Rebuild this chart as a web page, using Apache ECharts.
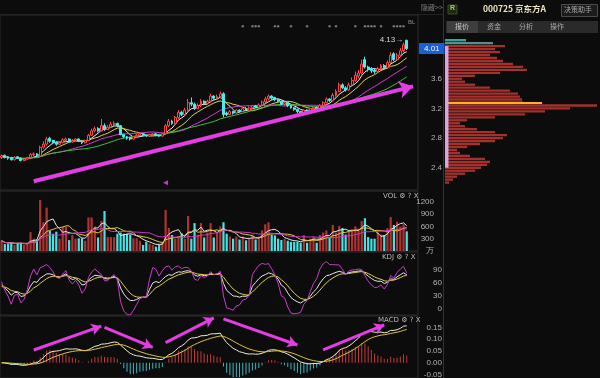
<!DOCTYPE html>
<html>
<head>
<meta charset="utf-8">
<script src="https://cdn.jsdelivr.net/npm/echarts@6/dist/echarts.min.js"></script>
<style>
html, body { margin: 0; padding: 0; background: #0c0c0c; }
#chart { width: 600px; height: 378px; }
</style>
</head>
<body>
<div id="chart"></div>
<script>
// 000725 京东方A 日K，数值为读图估算
var opens = [2.54, 2.57, 2.55, 2.54, 2.51, 2.55, 2.53, 2.50, 2.52, 2.54,
    2.58, 2.59, 2.56, 2.68, 2.72, 2.80, 2.77, 2.75, 2.72, 2.74,
    2.77, 2.79, 2.75, 2.77, 2.79, 2.76, 2.74, 2.77, 2.84, 2.90,
    2.93, 2.90, 2.97, 2.92, 2.95, 2.98, 3.00, 2.97, 2.85, 2.82,
    2.81, 2.79, 2.82, 2.84, 2.86, 2.84, 2.83, 2.85, 2.86, 2.84,
    2.83, 2.86, 2.97, 3.03, 3.00, 3.08, 3.15, 3.12, 3.18, 3.28,
    3.26, 3.20, 3.24, 3.30, 3.27, 3.30, 3.37, 3.34, 3.36, 3.40,
    3.14, 3.12, 3.16, 3.14, 3.18, 3.16, 3.20, 3.18, 3.21, 3.24,
    3.22, 3.25, 3.29, 3.33, 3.37, 3.35, 3.32, 3.30, 3.26, 3.28,
    3.24, 3.21, 3.19, 3.16, 3.14, 3.18, 3.17, 3.20, 3.22, 3.20,
    3.24, 3.28, 3.33, 3.31, 3.38, 3.43, 3.52, 3.48, 3.45, 3.52,
    3.58, 3.64, 3.68, 3.86, 3.76, 3.74, 3.72, 3.70, 3.74, 3.78,
    3.75, 3.82, 3.94, 3.86, 3.92, 3.98, 4.12];
var closes = [2.56, 2.54, 2.53, 2.51, 2.54, 2.53, 2.50, 2.52, 2.54, 2.58,
    2.59, 2.56, 2.68, 2.72, 2.79, 2.76, 2.74, 2.72, 2.74, 2.78,
    2.79, 2.75, 2.77, 2.79, 2.76, 2.74, 2.77, 2.84, 2.90, 2.93,
    2.90, 2.97, 2.92, 2.95, 2.99, 3.00, 2.97, 2.85, 2.82, 2.80,
    2.79, 2.82, 2.84, 2.86, 2.84, 2.83, 2.85, 2.86, 2.84, 2.83,
    2.86, 2.97, 3.03, 3.00, 3.08, 3.15, 3.12, 3.18, 3.28, 3.26,
    3.20, 3.24, 3.30, 3.27, 3.30, 3.37, 3.34, 3.36, 3.40, 3.12,
    3.12, 3.16, 3.14, 3.18, 3.16, 3.20, 3.18, 3.21, 3.24, 3.22,
    3.25, 3.29, 3.33, 3.37, 3.34, 3.32, 3.30, 3.26, 3.28, 3.24,
    3.21, 3.19, 3.16, 3.14, 3.18, 3.17, 3.20, 3.22, 3.20, 3.24,
    3.28, 3.33, 3.31, 3.38, 3.43, 3.52, 3.48, 3.45, 3.52, 3.58,
    3.65, 3.68, 3.80, 3.76, 3.73, 3.71, 3.70, 3.74, 3.78, 3.75,
    3.82, 3.92, 3.86, 3.92, 3.98, 4.06, 4.01];
var lows = [2.52, 2.53, 2.51, 2.50, 2.50, 2.52, 2.49, 2.49, 2.51, 2.53,
    2.56, 2.55, 2.55, 2.66, 2.70, 2.74, 2.72, 2.70, 2.71, 2.73,
    2.75, 2.74, 2.74, 2.76, 2.75, 2.72, 2.73, 2.76, 2.83, 2.88,
    2.88, 2.89, 2.90, 2.91, 2.94, 2.96, 2.95, 2.84, 2.80, 2.78,
    2.77, 2.78, 2.81, 2.83, 2.83, 2.82, 2.82, 2.84, 2.83, 2.82,
    2.82, 2.85, 2.95, 2.98, 2.99, 3.06, 3.10, 3.11, 3.16, 3.23,
    3.18, 3.19, 3.22, 3.25, 3.26, 3.28, 3.32, 3.32, 3.34, 3.08,
    3.10, 3.11, 3.12, 3.13, 3.15, 3.15, 3.17, 3.17, 3.20, 3.21,
    3.21, 3.24, 3.27, 3.31, 3.32, 3.30, 3.28, 3.25, 3.24, 3.22,
    3.20, 3.17, 3.14, 3.12, 3.13, 3.15, 3.16, 3.19, 3.19, 3.19,
    3.23, 3.27, 3.29, 3.30, 3.36, 3.42, 3.46, 3.43, 3.44, 3.50,
    3.56, 3.61, 3.66, 3.74, 3.70, 3.68, 3.67, 3.69, 3.72, 3.73,
    3.74, 3.80, 3.84, 3.85, 3.90, 3.96, 3.99];
var highs = [2.58, 2.58, 2.56, 2.55, 2.56, 2.56, 2.54, 2.53, 2.55, 2.60,
    2.61, 2.60, 2.70, 2.76, 2.82, 2.82, 2.78, 2.76, 2.76, 2.80,
    2.81, 2.80, 2.79, 2.80, 2.80, 2.77, 2.78, 2.86, 2.93, 2.96,
    2.95, 3.06, 3.00, 2.98, 3.02, 3.03, 3.01, 2.98, 2.86, 2.83,
    2.82, 2.83, 2.86, 2.87, 2.87, 2.85, 2.86, 2.87, 2.87, 2.85,
    2.87, 2.99, 3.06, 3.05, 3.10, 3.18, 3.17, 3.21, 3.33, 3.35,
    3.28, 3.27, 3.33, 3.31, 3.32, 3.40, 3.38, 3.39, 3.43, 3.42,
    3.16, 3.18, 3.17, 3.19, 3.19, 3.21, 3.22, 3.23, 3.25, 3.25,
    3.27, 3.31, 3.36, 3.39, 3.38, 3.36, 3.33, 3.31, 3.29, 3.29,
    3.25, 3.22, 3.20, 3.17, 3.19, 3.19, 3.21, 3.23, 3.23, 3.26,
    3.30, 3.35, 3.34, 3.41, 3.46, 3.55, 3.54, 3.50, 3.55, 3.62,
    3.70, 3.72, 3.86, 3.90, 3.78, 3.76, 3.74, 3.76, 3.80, 3.80,
    3.85, 3.96, 3.96, 3.95, 4.02, 4.09, 4.13];
// 成交量，单位：万手
var volumes = [250, 170, 170, 200, 150, 200, 200, 150, 180, 460,
    300, 265, 1245, 700, 1057, 490, 420, 470, 300, 595,
    595, 265, 390, 300, 310, 310, 250, 820, 820, 600,
    330, 730, 975, 340, 340, 340, 420, 450, 420, 420,
    400, 310, 310, 250, 146, 227, 180, 150, 105, 146,
    227, 1000, 560, 390, 300, 350, 430, 300, 855, 300,
    680, 400, 680, 330, 450, 680, 330, 450, 600, 700,
    420, 350, 300, 350, 280, 350, 260, 300, 400, 280,
    350, 500, 650, 700, 400, 380, 300, 268, 300, 250,
    225, 225, 225, 200, 390, 200, 300, 350, 200, 390,
    450, 500, 340, 635, 450, 610, 560, 400, 465, 500,
    600, 550, 730, 800, 340, 300, 300, 450, 400, 390,
    560, 830, 635, 710, 600, 650, 480];
// 筹码分布
var chipPrices = ['2.12', '2.16', '2.20', '2.24', '2.28', '2.32', '2.36', '2.40', '2.44', '2.48',
    '2.52', '2.56', '2.60', '2.64', '2.68', '2.72', '2.76', '2.80', '2.84', '2.88',
    '2.92', '2.96', '3.00', '3.04', '3.08', '3.12', '3.16', '3.20', '3.24', '3.28',
    '3.32', '3.36', '3.40', '3.44', '3.48', '3.52', '3.56', '3.60', '3.64', '3.68',
    '3.72', '3.76', '3.80', '3.84', '3.88', '3.92', '3.96', '4.00', '4.04', '4.08',
    '4.12', '4.16', '4.20', '4.24', '4.28', '4.32', '4.36', '4.40', '4.44'];
var chipAmounts = [0, 0, 4, 8, 12, 20, 30, 36, 42, 45,
    40, 25, 15, 12, 22, 35, 50, 58, 62, 50,
    32, 20, 15, 22, 50, 80, 100, 125, 152, 78,
    77, 75, 73, 65, 45, 30, 20, 17, 30, 55,
    82, 78, 68, 58, 52, 45, 55, 50, 60, 48,
    21, 0, 0, 0, 0, 0, 0, 0, 0];
var avgCost = ['3.28', 97];
var chipRange = ['2.40', '4.04'];
// 信息地雷所在的交易日
var eventDays = [75, 78, 79, 80, 85, 86, 90, 95, 102, 104, 110, 113, 114, 115, 116, 118, 122, 123, 124, 125];
var priceTicks = [2.4, 2.8, 3.2, 3.6, 4.0];
var volTicks = [0, 300, 600, 900, 1200];
var kdjTicks = [0, 30, 60, 90];
var macdTicks = [-0.05, 0, 0.05, 0.10, 0.15];
// 手绘箭头 [交易日序号, 数值]
var trendArrow = [[10, 2.22], [128, 3.50]];
var macdArrows = [
    [[10, 0.054], [31, 0.155]],
    [[32, 0.150], [47, 0.065]],
    [[51, 0.085], [66, 0.190]],
    [[69, 0.186], [92, 0.075]],
    [[100, 0.054], [119, 0.160]]
];

var UP = '#ff4646', DOWN = '#4cecec';
var labelStyle = { color: '#b4b4b4', fontSize: 8, fontFamily: 'Liberation Sans' };

function movingAverage(arr, n) {
    var out = [];
    for (var i = 0; i < arr.length; i++) {
        var s = 0, c = 0;
        for (var j = Math.max(0, i - n + 1); j <= i; j++) { s += arr[j]; c++; }
        out.push(+(s / c).toFixed(4));
    }
    return out;
}

function calcKDJ() {
    var k = 50, d = 50, K = [], D = [], J = [];
    for (var i = 0; i < closes.length; i++) {
        var hh = -Infinity, ll = Infinity;
        for (var j = Math.max(0, i - 8); j <= i; j++) {
            hh = Math.max(hh, highs[j]);
            ll = Math.min(ll, lows[j]);
        }
        var rsv = hh === ll ? 50 : (closes[i] - ll) / (hh - ll) * 100;
        k = (2 * k + rsv) / 3;
        d = (2 * d + k) / 3;
        K.push(+k.toFixed(2)); D.push(+d.toFixed(2)); J.push(+(3 * k - 2 * d).toFixed(2));
    }
    return { K: K, D: D, J: J };
}

function calcMACD() {
    var e12 = closes[0], e26 = closes[0], dea = 0, DIF = [], DEA = [], BAR = [];
    for (var i = 0; i < closes.length; i++) {
        e12 = e12 * 11 / 13 + closes[i] * 2 / 13;
        e26 = e26 * 25 / 27 + closes[i] * 2 / 27;
        var dif = e12 - e26;
        dea = dea * 8 / 10 + dif * 2 / 10;
        DIF.push(+dif.toFixed(4)); DEA.push(+dea.toFixed(4)); BAR.push(+(2 * (dif - dea)).toFixed(4));
    }
    return { DIF: DIF, DEA: DEA, BAR: BAR };
}

function isUp(i) { return closes[i] >= opens[i]; }

function rightAxis(grid, min, max, ticks, fmt, margin) {
    return {
        type: 'value', gridIndex: grid, position: 'right', min: min, max: max,
        axisLine: { show: false }, axisTick: { show: false }, splitLine: { show: false },
        axisLabel: Object.assign({ customValues: ticks, formatter: fmt, align: 'right', margin: margin }, labelStyle)
    };
}

function catAxis(grid, days) {
    return {
        type: 'category', gridIndex: grid, data: days, boundaryGap: true,
        axisLine: { show: false }, axisTick: { show: false }, axisLabel: { show: false }, splitLine: { show: false }
    };
}

function line(name, data, color, x, y) {
    return {
        name: name, type: 'line', data: data, xAxisIndex: x, yAxisIndex: y,
        symbol: 'none', smooth: false, lineStyle: { color: color, width: 1 }, z: 3
    };
}

var chart = echarts.init(document.getElementById('chart'));
var days = closes.map(function (c, i) { return i; }).concat([127, 128, 129]);
var candles = closes.map(function (c, i) { return [opens[i], c, lows[i], highs[i]]; });
var kdj = calcKDJ();
var macd = calcMACD();
var last = closes.length - 1;
var frame = { show: true, borderColor: '#2c2c2c', borderWidth: 1, backgroundColor: 'transparent', outerBoundsMode: 'none' };

var option = {
    backgroundColor: '#0c0c0c',
    animation: false,
    grid: [
        Object.assign({ left: 0, width: 418, top: 15, height: 175 }, frame),
        Object.assign({ left: 0, width: 418, top: 191, height: 60 }, frame),
        Object.assign({ left: 0, width: 418, top: 252, height: 63 }, frame),
        Object.assign({ left: 0, width: 418, top: 316, height: 62 }, frame),
        { left: 445, right: 0, top: 15, height: 175, show: false, outerBoundsMode: 'none' }
    ],
    xAxis: [
        catAxis(0, days), catAxis(1, days), catAxis(2, days), catAxis(3, days),
        { type: 'value', gridIndex: 4, min: 0, max: 155, show: false }
    ],
    yAxis: [
        rightAxis(0, 2.1025, 4.462, priceTicks, function (v) { return v.toFixed(1); }, 24),
        rightAxis(1, 0, 1463, volTicks, function (v) { return v === 0 ? '万' : v; }, 16),
        rightAxis(2, -13.8, 131.5, kdjTicks, function (v) { return v; }, 24),
        rightAxis(3, -0.0648, 0.198, macdTicks, function (v) { return v.toFixed(2); }, 24),
        { type: 'category', gridIndex: 4, data: chipPrices, show: false, boundaryGap: true }
    ],
    series: [
        {
            name: 'K', type: 'candlestick', data: candles, xAxisIndex: 0, yAxisIndex: 0,
            barWidth: 2.4, z: 4,
            itemStyle: { color: '#0c0c0c', color0: DOWN, borderColor: UP, borderColor0: DOWN, borderWidth: 1 },
            markPoint: {
                silent: true, symbol: 'rect', symbolSize: 1, itemStyle: { color: 'rgba(0,0,0,0)' },
                data: [{ type: 'max', valueDim: 'highest' }],
                label: Object.assign({ show: true, position: 'left', distance: 3,
                    formatter: function (p) { return p.value + '→'; } }, labelStyle, { color: '#d8d8d8' })
            },
            markLine: {
                silent: true, symbol: ['none', 'none'], z: 10,
                lineStyle: { color: 'rgba(0,0,0,0)', width: 1, type: 'solid' },
                label: { show: true, position: 'end', distance: 1,
                    formatter: function (p) { return p.value.toFixed(2); },
                    backgroundColor: '#1a5fd8', color: '#ffffff', fontSize: 8, fontFamily: 'Liberation Sans',
                    padding: [2, 5, 1, 5] },
                data: [{ yAxis: closes[last] }]
            }
        },
        Object.assign(line('MA5', movingAverage(closes, 5), '#f2f2f2', 0, 0), {
            markLine: {
                silent: true, symbol: ['none', 'arrow'], symbolSize: [13, 14],
                lineStyle: { color: '#e23ee4', width: 4, type: 'solid' }, label: { show: false },
                data: [[{ coord: trendArrow[0] }, { coord: trendArrow[1] }]]
            },
            markPoint: {
                silent: true, symbol: 'triangle', symbolSize: 5, symbolRotate: 90,
                itemStyle: { color: '#c23cc2' }, label: { show: false },
                data: [{ coord: [51, 2.2] }]
            }
        }),
        line('MA10', movingAverage(closes, 10), '#e8d23c', 0, 0),
        line('MA20', movingAverage(closes, 20), '#d23cd2', 0, 0),
        line('MA30', movingAverage(closes, 30), '#3cc23c', 0, 0),
        {
            name: 'events', type: 'scatter', xAxisIndex: 0, yAxisIndex: 0, symbolSize: 2.5,
            itemStyle: { color: '#8c8c8c' }, silent: true,
            data: eventDays.map(function (d) { return [d, 4.31]; })
        },
        {
            name: 'VOL', type: 'bar', data: volumes, xAxisIndex: 1, yAxisIndex: 1, barWidth: 2.2,
            itemStyle: { color: function (p) { return isUp(p.dataIndex) ? '#b23232' : '#44e4e4'; } }
        },
        line('VMA5', movingAverage(volumes, 5), '#e6e6e6', 1, 1),
        line('VMA10', movingAverage(volumes, 10), '#e2c83a', 1, 1),
        line('VMA20', movingAverage(volumes, 20), '#c83ac8', 1, 1),
        line('K', kdj.K, '#e6e6e6', 2, 2),
        line('D', kdj.D, '#e2d040', 2, 2),
        line('J', kdj.J, '#c83cc8', 2, 2),
        {
            name: 'MACD', type: 'bar', data: macd.BAR, xAxisIndex: 3, yAxisIndex: 3, barWidth: 1,
            itemStyle: { color: function (p) { return p.value >= 0 ? '#c43a3a' : '#3ab8c0'; } }
        },
        Object.assign(line('DIF', macd.DIF, '#eeeed0', 3, 3), {
            markLine: {
                silent: true, symbol: ['none', 'arrow'], symbolSize: [9, 10],
                lineStyle: { color: '#e23ee4', width: 3, type: 'solid' }, label: { show: false },
                data: macdArrows.map(function (a) { return [{ coord: a[0] }, { coord: a[1] }]; })
            }
        }),
        line('DEA', macd.DEA, '#e0c23a', 3, 3),
        {
            name: 'chips', type: 'bar', data: chipAmounts, xAxisIndex: 4, yAxisIndex: 4, barWidth: '80%',
            itemStyle: {
                color: function (p) {
                    var pr = +chipPrices[p.dataIndex];
                    if (pr >= 4.10) return '#36a69c';
                    if (pr >= 4.06) return '#5e8e89';
                    return '#a3312c';
                }
            }
        },
        {
            name: 'cost', type: 'line', data: [], xAxisIndex: 4, yAxisIndex: 4, z: 8,
            markLine: {
                silent: true, symbol: ['none', 'none'], label: { show: false },
                lineStyle: { color: '#ffb21a', width: 2, type: 'solid' },
                data: [[{ coord: [0, avgCost[0]] }, { coord: [avgCost[1], avgCost[0]] }]]
            },
            markArea: {
                silent: true, z: 8, itemStyle: { color: '#d8a4e2', opacity: 1 },
                data: [[{ coord: [0, chipRange[0]] }, { coord: [3.5, chipRange[1]] }]]
            }
        }
    ],
    graphic: [
        { type: 'line', shape: { x1: 443.5, y1: 0, x2: 443.5, y2: 378 }, style: { stroke: '#333', lineWidth: 1 } },
        { type: 'line', shape: { x1: 0, y1: 14.5, x2: 443, y2: 14.5 }, style: { stroke: '#222', lineWidth: 1 } },
        { type: 'text', left: 421, top: 4, style: { text: '隐藏>>', fill: '#7c7c7c', font: '7px "Noto Sans CJK SC"' } },
        { type: 'rect', shape: { x: 448, y: 5, width: 9, height: 9 }, style: { fill: '#1f2a14', stroke: '#3a4a26' } },
        { type: 'text', left: 450, top: 5, style: { text: 'R', fill: '#9ccc5a', font: 'bold 7px "Liberation Sans"' } },
        { type: 'text', left: 483, top: 5, style: { text: '000725 京东方A', fill: '#ece4c0', font: 'bold 8.5px "Noto Sans CJK SC"' } },
        { type: 'rect', shape: { x: 561.5, y: 4.5, width: 36, height: 12 }, style: { fill: '#1c1c1c', stroke: '#4a4a4a' } },
        { type: 'text', left: 564, top: 6, style: { text: '决策助手', fill: '#a8a8a8', font: '7px "Noto Sans CJK SC"' } },
        { type: 'rect', shape: { x: 446, y: 21, width: 152, height: 12 }, style: { fill: '#2a2a2a' } },
        { type: 'rect', shape: { x: 447, y: 21, width: 31, height: 12 }, style: { fill: '#3e3e3e' } },
        { type: 'text', left: 455, top: 23, style: { text: '报价', fill: '#c8c8c8', font: '7px "Noto Sans CJK SC"' } },
        { type: 'text', left: 487, top: 23, style: { text: '资金', fill: '#a8a8a8', font: '7px "Noto Sans CJK SC"' } },
        { type: 'text', left: 519, top: 23, style: { text: '分析', fill: '#a8a8a8', font: '7px "Noto Sans CJK SC"' } },
        { type: 'text', left: 550, top: 23, style: { text: '操作', fill: '#a8a8a8', font: '7px "Noto Sans CJK SC"' } },
        { type: 'text', left: 408, top: 19, style: { text: 'BL', fill: '#8c8c8c', font: '6px "Liberation Sans"' } },
        { type: 'text', left: 383, top: 193, style: { text: 'VOL ⚙ ? X', fill: '#b8b8b8', font: '7px "DejaVu Sans"' } },
        { type: 'text', left: 382, top: 254, style: { text: 'KDJ ⚙ ? X', fill: '#b8b8b8', font: '7px "DejaVu Sans"' } },
        { type: 'text', left: 378, top: 317, style: { text: 'MACD ⚙ ? X', fill: '#b8b8b8', font: '7px "DejaVu Sans"' } }
    ]
};
chart.setOption(option);
</script>
</body>
</html>
